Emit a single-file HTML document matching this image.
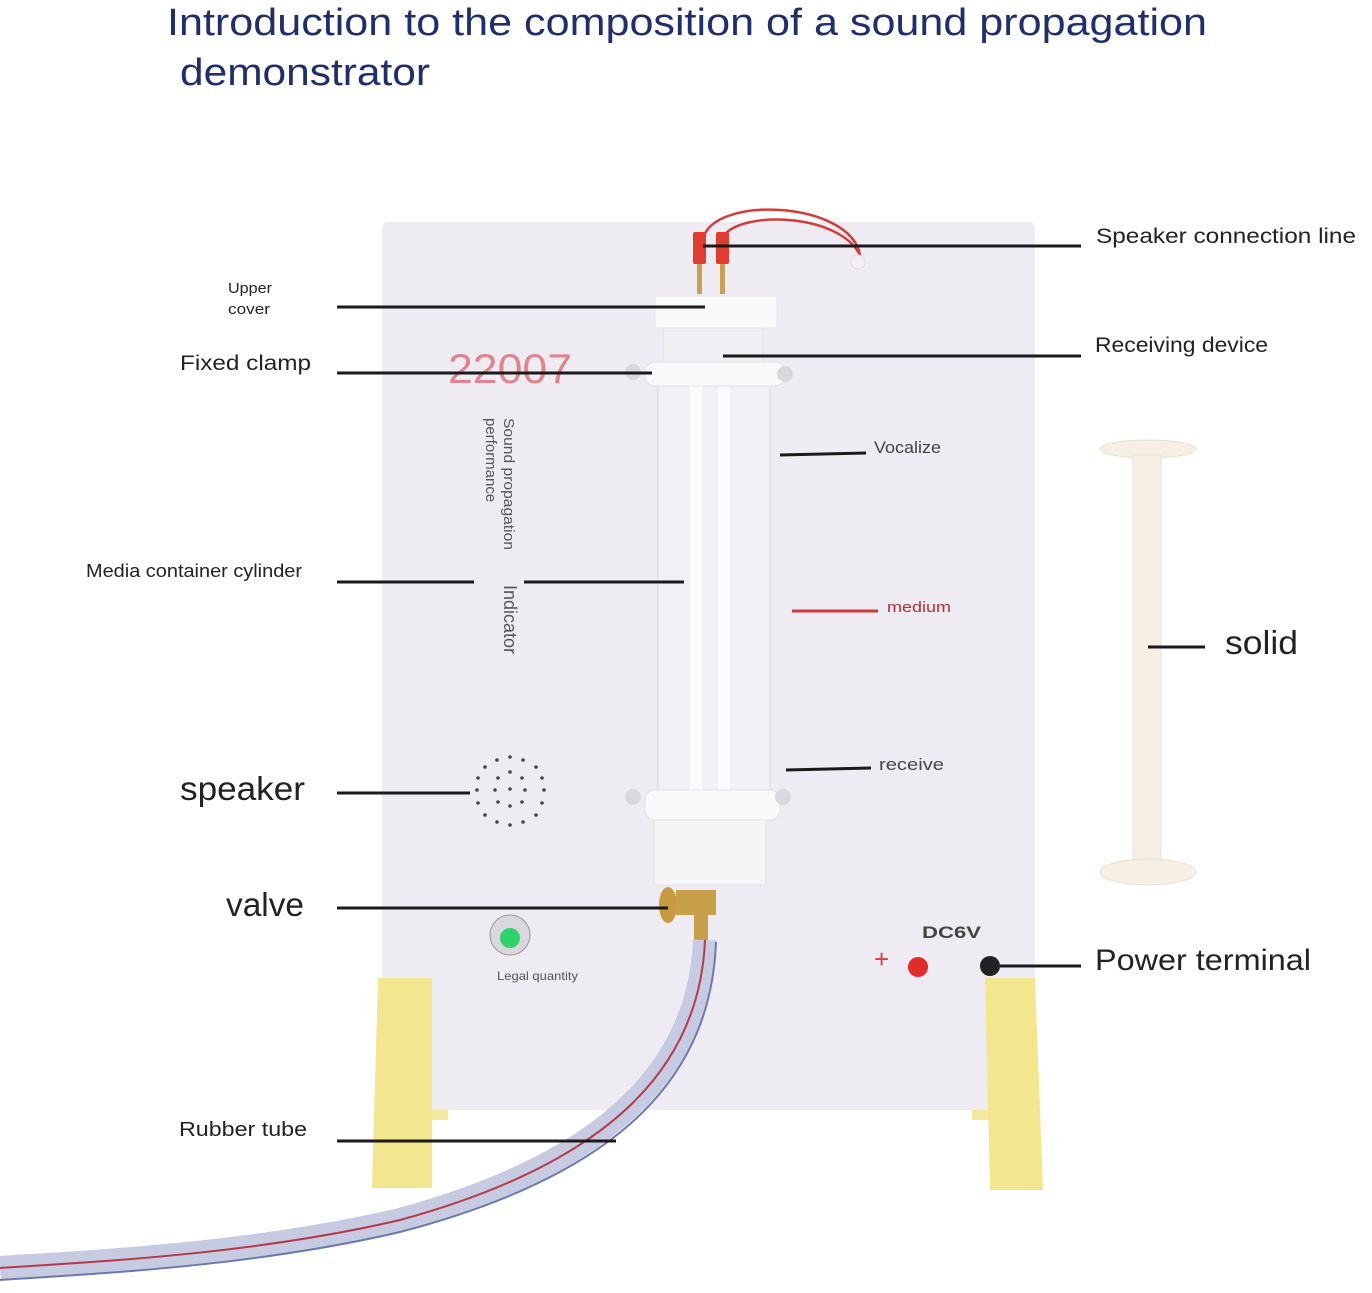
<!DOCTYPE html>
<html><head><meta charset="utf-8"><style>
body{margin:0;background:#fff;}
svg{display:block;font-family:"Liberation Sans",sans-serif;}
</style></head><body>
<svg width="1372" height="1293" viewBox="0 0 1372 1293" xmlns="http://www.w3.org/2000/svg">
<text x="167" y="35" font-size="38" fill="#1f2f6e" textLength="1040" lengthAdjust="spacingAndGlyphs">Introduction to the composition of a sound propagation</text>
<text x="180" y="85" font-size="38" fill="#1f2f6e" textLength="250" lengthAdjust="spacingAndGlyphs">demonstrator</text>
<rect x="420" y="1095" width="28" height="25" fill="#f3eaa0"/>
<rect x="972" y="1095" width="24" height="25" fill="#f3eaa0"/>
<rect x="382" y="222" width="653" height="888" rx="6" fill="#eeebf2"/>
<polygon points="378,978 432,978 432,1188 372,1188" fill="#f2e78e"/>
<polygon points="985,978 1035,978 1043,1190 990,1190" fill="#f2e78e"/>
<path d="M703,240 C710,195 850,200 860,255" stroke="#d83a3a" stroke-width="2.5" fill="none"/>
<path d="M722,240 C730,210 845,210 862,260" stroke="#d83a3a" stroke-width="2.5" fill="none"/>
<circle cx="858" cy="262" r="7" fill="#f2eef4" stroke="#ddd"/>
<rect x="693" y="232" width="13" height="32" rx="2" fill="#e23b2f"/>
<rect x="716" y="232" width="13" height="32" rx="2" fill="#e23b2f"/>
<rect x="697" y="264" width="5" height="30" fill="#c9a050"/>
<rect x="720" y="264" width="5" height="30" fill="#c9a050"/>
<rect x="655" y="296" width="122" height="32" fill="#fafafa" stroke="#e4e4ea"/>
<rect x="663" y="328" width="100" height="35" fill="#f0f0f4" stroke="#e0e0e6"/>
<rect x="658" y="383" width="112" height="410" fill="#f1f0f5" stroke="#dcdce4"/>
<rect x="690" y="383" width="12" height="410" fill="#fbfbfd"/>
<rect x="718" y="383" width="12" height="410" fill="#fbfbfd"/>
<rect x="645" y="362" width="140" height="24" rx="10" fill="#fafafa" stroke="#e0e0e6"/>
<circle cx="633" cy="372" r="8" fill="#d8d8de"/><circle cx="785" cy="374" r="8" fill="#d8d8de"/>
<rect x="645" y="790" width="135" height="30" rx="10" fill="#fafafa" stroke="#e0e0e6"/>
<circle cx="633" cy="797" r="8" fill="#d8d8de"/><circle cx="783" cy="797" r="8" fill="#d8d8de"/>
<rect x="654" y="820" width="112" height="65" fill="#f5f5f8" stroke="#e2e2e8"/>
<ellipse cx="668" cy="905" rx="9" ry="18" fill="#c89a40"/>
<rect x="676" y="890" width="40" height="25" fill="#c9a04a"/>
<rect x="694" y="910" width="14" height="30" fill="#c9a04a"/>
<path d="M705,940 C700,1060 620,1160 400,1220 C250,1255 90,1262 0,1268" stroke="#c6cbe2" stroke-width="24" fill="none"/>
<path d="M705,940 C700,1060 620,1160 400,1220 C250,1255 90,1262 0,1268" stroke="#b23a4a" stroke-width="2" fill="none"/>
<path d="M716,942 C711,1070 630,1172 400,1232 C250,1267 90,1274 0,1280" stroke="#6a7ab0" stroke-width="2" fill="none"/>
<text x="448" y="383" font-size="42" fill="#e08590" textLength="124" lengthAdjust="spacingAndGlyphs">22007</text>
<g fill="#555" font-size="15">
<text transform="translate(504,418) rotate(90)" textLength="132" lengthAdjust="spacingAndGlyphs">Sound propagation</text>
<text transform="translate(486,418) rotate(90)">performance</text>
<text transform="translate(504,585) rotate(90)" font-size="18">Indicator</text>
</g>
<g fill="#444">
<circle cx="510" cy="757" r="1.8"/><circle cx="497" cy="760" r="1.8"/><circle cx="523" cy="760" r="1.8"/>
<circle cx="485" cy="767" r="1.8"/><circle cx="536" cy="767" r="1.8"/><circle cx="510" cy="772" r="1.8"/>
<circle cx="498" cy="778" r="1.8"/><circle cx="522" cy="778" r="1.8"/><circle cx="478" cy="778" r="1.8"/><circle cx="542" cy="778" r="1.8"/>
<circle cx="510" cy="789" r="1.8"/><circle cx="495" cy="790" r="1.8"/><circle cx="525" cy="790" r="1.8"/><circle cx="477" cy="790" r="1.8"/><circle cx="544" cy="790" r="1.8"/>
<circle cx="498" cy="802" r="1.8"/><circle cx="522" cy="802" r="1.8"/><circle cx="510" cy="806" r="1.8"/><circle cx="478" cy="803" r="1.8"/><circle cx="542" cy="803" r="1.8"/>
<circle cx="485" cy="815" r="1.8"/><circle cx="536" cy="815" r="1.8"/><circle cx="497" cy="822" r="1.8"/><circle cx="510" cy="825" r="1.8"/><circle cx="523" cy="822" r="1.8"/>
</g>
<circle cx="510" cy="935" r="20" fill="#d8d8de" stroke="#999"/>
<circle cx="510" cy="938" r="10" fill="#2ed36a"/>
<text x="497" y="980" font-size="12" fill="#555" textLength="81" lengthAdjust="spacingAndGlyphs">Legal quantity</text>
<text x="922" y="938" font-size="17" font-weight="bold" fill="#444" textLength="59" lengthAdjust="spacingAndGlyphs">DC6V</text>
<text x="874" y="968" font-size="26" fill="#e04040">+</text>
<circle cx="918" cy="967" r="10" fill="#e22c2c"/>
<circle cx="990" cy="966" r="10" fill="#222"/>
<ellipse cx="1148" cy="449" rx="48" ry="9" fill="#f6f0e4" stroke="#e8e0d0"/>
<rect x="1133" y="455" width="28" height="415" fill="#f6f0e4" stroke="#ebe3d4"/>
<ellipse cx="1148" cy="872" rx="48" ry="13" fill="#f6f0e4" stroke="#e8e0d0"/>
<g stroke="#1a1a1a" stroke-width="3">
<line x1="703" y1="246" x2="1081" y2="246"/>
<line x1="337" y1="307" x2="705" y2="307"/>
<line x1="723" y1="356" x2="1081" y2="356"/>
<line x1="337" y1="373" x2="652" y2="373"/>
<line x1="337" y1="582" x2="474" y2="582"/>
<line x1="524" y1="582" x2="684" y2="582"/>
<line x1="337" y1="793" x2="470" y2="793"/>
<line x1="337" y1="908" x2="668" y2="908"/>
<line x1="337" y1="1141" x2="616" y2="1141"/>
<line x1="1000" y1="966" x2="1081" y2="966"/>
<line x1="1148" y1="647" x2="1205" y2="647"/>
<line x1="780" y1="455" x2="866" y2="453"/>
<line x1="786" y1="770" x2="871" y2="768"/>
</g>
<line x1="792" y1="611" x2="878" y2="611" stroke="#d03a3a" stroke-width="3"/>
<g fill="#222" lengthAdjust="spacingAndGlyphs">
<text x="1096" y="243" font-size="21" textLength="260" lengthAdjust="spacingAndGlyphs">Speaker connection line</text>
<text x="1095" y="352" font-size="21" textLength="173" lengthAdjust="spacingAndGlyphs">Receiving device</text>
<text x="228" y="293" font-size="15" textLength="44" lengthAdjust="spacingAndGlyphs">Upper</text>
<text x="228" y="314" font-size="15" textLength="42" lengthAdjust="spacingAndGlyphs">cover</text>
<text x="180" y="370" font-size="21" textLength="131" lengthAdjust="spacingAndGlyphs">Fixed clamp</text>
<text x="874" y="453" font-size="17" fill="#444" textLength="67" lengthAdjust="spacingAndGlyphs">Vocalize</text>
<text x="887" y="612" font-size="15" fill="#b03030" textLength="64" lengthAdjust="spacingAndGlyphs">medium</text>
<text x="86" y="577" font-size="18" textLength="216" lengthAdjust="spacingAndGlyphs">Media container cylinder</text>
<text x="1225" y="654" font-size="33" textLength="73" lengthAdjust="spacingAndGlyphs">solid</text>
<text x="879" y="770" font-size="17" fill="#444" textLength="65" lengthAdjust="spacingAndGlyphs">receive</text>
<text x="180" y="800" font-size="33" textLength="125" lengthAdjust="spacingAndGlyphs">speaker</text>
<text x="226" y="916" font-size="33" textLength="78" lengthAdjust="spacingAndGlyphs">valve</text>
<text x="1095" y="970" font-size="30" textLength="216" lengthAdjust="spacingAndGlyphs">Power terminal</text>
<text x="179" y="1136" font-size="20" textLength="128" lengthAdjust="spacingAndGlyphs">Rubber tube</text>
</g>
</svg>
</body></html>
